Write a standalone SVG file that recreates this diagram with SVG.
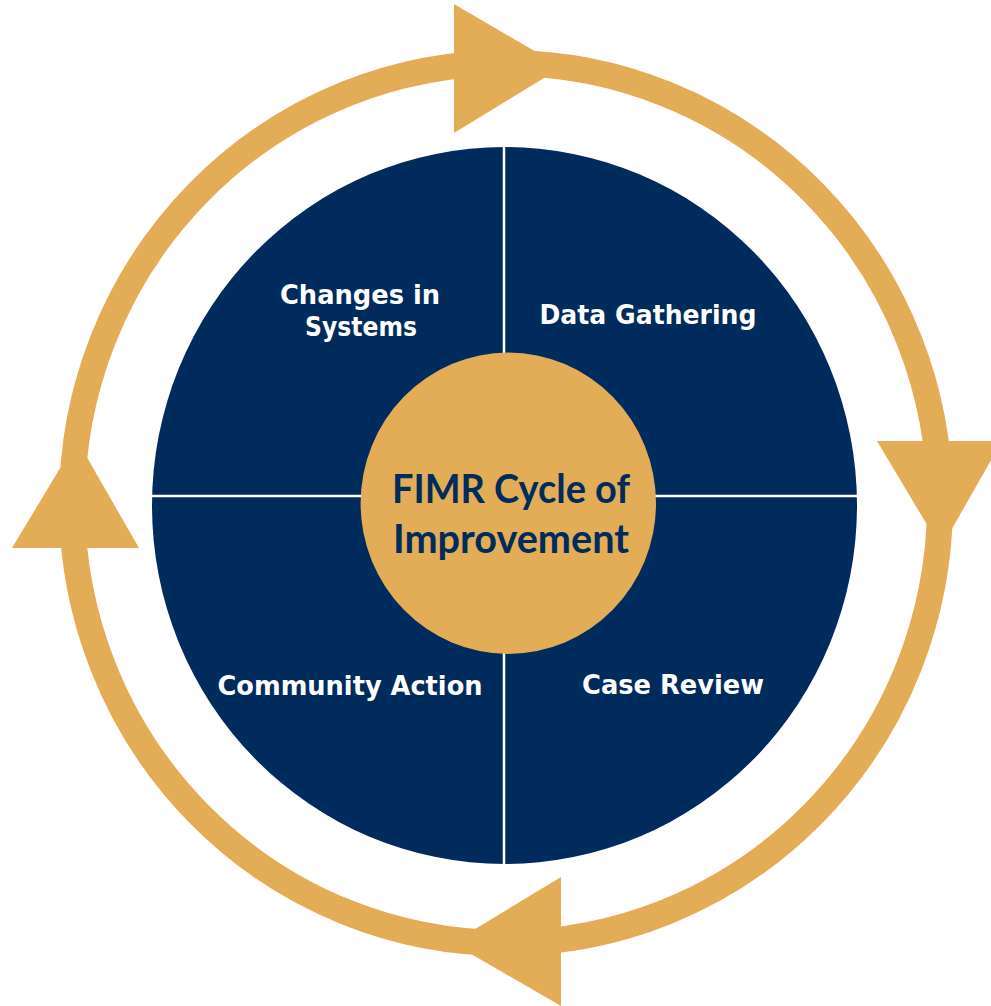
<svg xmlns="http://www.w3.org/2000/svg" width="991" height="1006" viewBox="0 0 991 1006">
<style>
.gold{fill:#E3AC57}
.ring{fill:none;stroke:#E3AC57;stroke-width:26}
.navy{fill:#002B5D}
.div{stroke:#FFFFFF;stroke-width:2.5}
.lbl{font-family:"DejaVu Sans",sans-serif;font-weight:bold;font-size:27px;fill:#FFFFFF;text-anchor:middle}
.ctr{font-family:Lato,"Open Sans",sans-serif;font-weight:bold;font-size:41px;fill:#002B5D;text-anchor:middle}
</style>
<rect width="991" height="1006" fill="#FFFFFF"/>
<g id="connectors">
<ellipse class="ring" cx="506" cy="503" rx="434" ry="440"/>
<polygon class="gold" points="454,4 562,67 454,133"/>
<polygon class="gold" points="877,441 1002,441 941,548"/>
<polygon class="gold" points="561,877 561,1006 452,943"/>
<polygon class="gold" points="12,548 139,548 77,440"/>
</g>
<g id="quadrants">
<ellipse class="navy" cx="504.5" cy="505.5" rx="352.5" ry="358.5"/>
<line class="div" x1="504" y1="147" x2="504" y2="864"/>
<line class="div" x1="152" y1="496" x2="857" y2="496"/>
</g>
<g id="changes-in-systems">
<text class="lbl" x="360" y="304" textLength="160" lengthAdjust="spacingAndGlyphs">Changes in</text>
<text class="lbl" x="361" y="336" textLength="112" lengthAdjust="spacingAndGlyphs">Systems</text>
</g>
<g id="data-gathering">
<text class="lbl" x="648" y="324" textLength="217" lengthAdjust="spacingAndGlyphs">Data Gathering</text>
</g>
<g id="community-action">
<text class="lbl" x="350" y="695" textLength="265" lengthAdjust="spacingAndGlyphs">Community Action</text>
</g>
<g id="case-review">
<text class="lbl" x="673" y="694" textLength="182" lengthAdjust="spacingAndGlyphs">Case Review</text>
</g>
<g id="center">
<ellipse class="gold" cx="508.3" cy="503.3" rx="147.7" ry="150.7"/>
<text class="ctr" x="511" y="503" textLength="238" lengthAdjust="spacingAndGlyphs">FIMR Cycle of</text>
<text class="ctr" x="511" y="553" textLength="236" lengthAdjust="spacingAndGlyphs">Improvement</text>
</g>
</svg>
